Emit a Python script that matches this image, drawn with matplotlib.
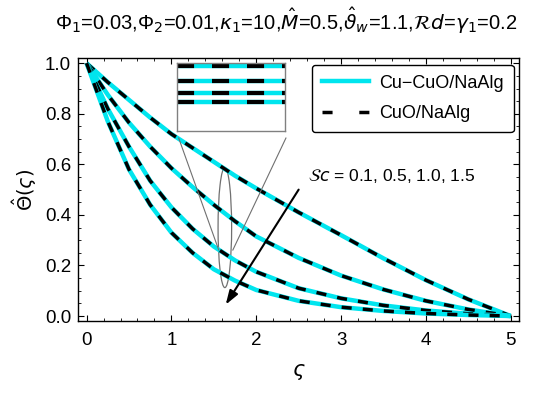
import matplotlib
matplotlib.use("Agg")
import matplotlib.pyplot as plt
from matplotlib.patches import Ellipse
from matplotlib.lines import Line2D
from matplotlib.ticker import MultipleLocator, FormatStrFormatter

plt.rcParams['font.family'] = ['Liberation Sans', 'DejaVu Sans']
plt.rcParams['mathtext.fontset'] = 'dejavusans'

zeta = [0, 0.25, 0.5, 0.75, 1, 1.25, 1.5, 1.75, 2, 2.5, 3, 3.5, 4, 4.5, 5]
sc_values = [0.1, 0.5, 1.0, 1.5]
theta = [
    [1.0, 0.925, 0.855, 0.785, 0.72, 0.665, 0.61, 0.555, 0.505, 0.41, 0.32, 0.228, 0.142, 0.066, 0],
    [1.0, 0.875, 0.765, 0.67, 0.585, 0.51, 0.44, 0.375, 0.315, 0.23, 0.16, 0.105, 0.06, 0.026, 0],
    [1.0, 0.82, 0.67, 0.535, 0.43, 0.345, 0.275, 0.22, 0.175, 0.11, 0.07, 0.042, 0.022, 0.009, 0],
    [1.0, 0.77, 0.58, 0.44, 0.33, 0.25, 0.185, 0.14, 0.103, 0.06, 0.035, 0.02, 0.01, 0.004, 0],
]
inset_levels = [0.956, 0.735, 0.56, 0.43]

cyan = '#00E5EE'

fig = plt.figure(figsize=(5.5, 3.93), dpi=100)
ax = fig.add_axes([0.142, 0.183, 0.802, 0.669])

for th in theta:
    ax.plot(zeta, th, color=cyan, lw=3.2, solid_capstyle='butt')
    ax.plot(zeta, th, color='black', lw=2.5, dashes=(2.9, 3.2))

ax.set_xlim(-0.1, 5.1)
ax.set_ylim(-0.02, 1.02)
ax.xaxis.set_major_locator(MultipleLocator(1))
ax.xaxis.set_minor_locator(MultipleLocator(0.2))
ax.yaxis.set_major_locator(MultipleLocator(0.2))
ax.yaxis.set_minor_locator(MultipleLocator(0.05))
ax.yaxis.set_major_formatter(FormatStrFormatter('%.1f'))
ax.tick_params(which='both', direction='in', top=True, right=True, labelsize=13.5)
ax.tick_params(which='major', length=4, width=0.8)
ax.tick_params(axis='x', which='major', pad=8)
ax.tick_params(axis='y', which='major', pad=5)
ax.tick_params(which='minor', length=2, width=0.6)
for s in ax.spines.values():
    s.set_linewidth(1.0)

ax.set_xlabel(r'$\varsigma$', fontsize=15, labelpad=9)
ax.set_ylabel(r'$\hat{\Theta}(\varsigma)$', fontsize=14, labelpad=4)
fig.text(0.52, 1 - 21 / 393,
         '\u03a6$_1$=0.03,\u03a6$_2$=0.01,$\\kappa_1$=10,$\\hat{M}$=0.5,'
         '$\\hat{\\vartheta}_w$=1.1,$\\mathcal{R}d$=$\\gamma_1$=0.2',
         fontsize=14.5, ha='center', va='center')

handles = [Line2D([], [], color=cyan, lw=3.2),
           Line2D([], [], color='black', lw=2.5, dashes=(2.9, 7.7))]
leg = ax.legend(handles, ['Cu\u2212CuO/NaAlg', 'CuO/NaAlg'],
                loc='upper right', bbox_to_anchor=(0.988, 0.975), borderaxespad=0,
                fontsize=13, handlelength=2.6, handletextpad=0.6,
                fancybox=True, framealpha=1, edgecolor='black',
                labelspacing=0.75, borderpad=0.55)
leg.get_frame().set_linewidth(1.0)

# ellipse, zoom connectors and arrow
ax.add_patch(Ellipse((1.63, 0.35), 0.16, 0.475, fill=False, ec='#707070', lw=0.9))
ax.plot([1.086, 1.558], [0.704, 0.261], color='#707070', lw=0.8)
ax.plot([2.35, 1.724], [0.704, 0.261], color='#707070', lw=0.8)
ax.annotate('', xy=(1.64, 0.045), xytext=(2.5, 0.50),
            arrowprops=dict(arrowstyle='-|>,head_length=0.6,head_width=0.2',
                            color='black', lw=1.5, mutation_scale=14,
                            shrinkA=0, shrinkB=0))
ax.text(2.61, 0.553, r'$\mathcal{S}c$ = 0.1, 0.5, 1.0, 1.5', fontsize=12.5, va='center')

# magnified inset
ins = fig.add_axes([0.322, 0.667, 0.196, 0.173])
for lv in inset_levels:
    ins.plot([0, 1], [lv, lv], color=cyan, lw=3.2, solid_capstyle='butt')
    ins.plot([0, 1], [lv, lv], color='black', lw=3.0, dashes=(4.1, 4.3))
ins.set_xlim(0, 1)
ins.set_ylim(0, 1)
ins.set_xticks([])
ins.set_yticks([])
for s in ins.spines.values():
    s.set_color('#808080')
    s.set_linewidth(1.0)

fig.savefig('out.png', dpi=100, facecolor='white')
